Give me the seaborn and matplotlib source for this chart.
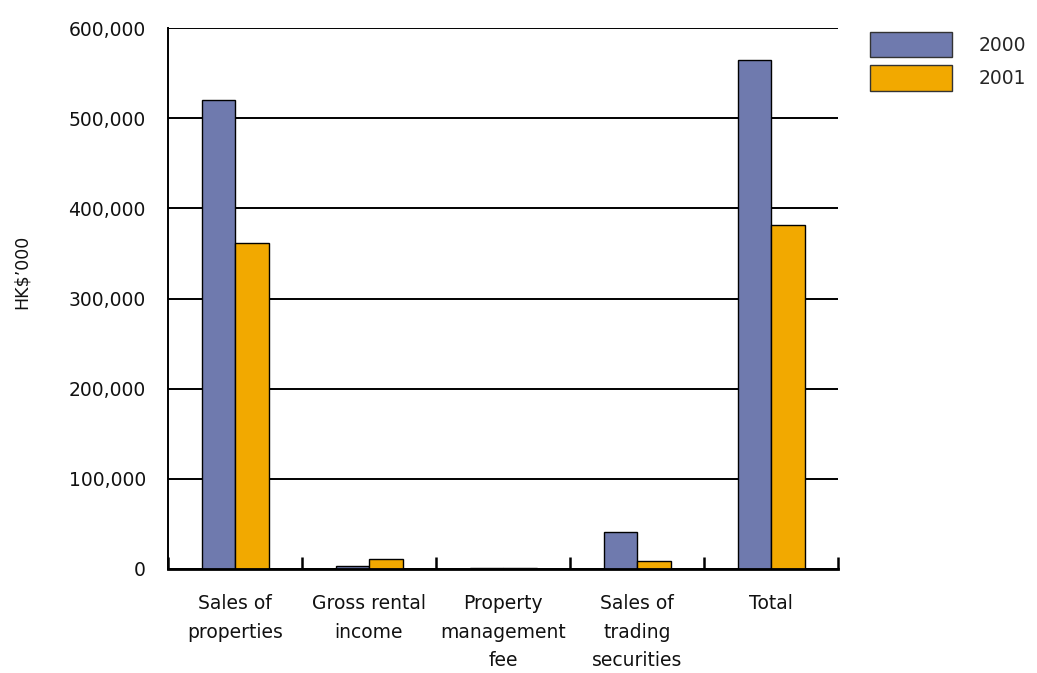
import matplotlib
matplotlib.use("Agg")
import matplotlib.pyplot as plt
import seaborn as sns
import pandas as pd
import numpy as np
from matplotlib.ticker import FixedLocator, FuncFormatter
from matplotlib.patches import Patch

categories = ["Sales of\nproperties", "Gross rental\nincome", "Property\nmanagement\nfee",
              "Sales of\ntrading\nsecurities", "Total"]
years = ["2000", "2001"]
values_2000 = [520000, 3000, 1000, 41000, 565000]
values_2001 = [361000, 11000, 1000, 9000, 382000]
colors = ["#6f7aae", "#f2a900"]

df = pd.DataFrame({
    "category": categories * 2,
    "year": [years[0]] * len(categories) + [years[1]] * len(categories),
    "value": values_2000 + values_2001,
})

sns.set_theme(style="white")
plt.rcParams["font.family"] = ["DejaVu Sans"]

fig = plt.figure(figsize=(10.37, 6.73), dpi=100)
ax = fig.add_axes([168 / 1037, 104 / 673, 670 / 1037, 541 / 673])

sns.barplot(data=df, x="category", y="value", hue="year", palette=colors,
            width=0.5, gap=0, edgecolor="black", linewidth=1.0, ax=ax,
            legend=False, saturation=1)

ax.set_ylim(0, 600000)
ax.set_xlim(-0.5, len(categories) - 0.5)
ax.set_yticks(np.arange(0, 600001, 100000))
ax.yaxis.set_major_formatter(FuncFormatter(lambda v, p: f"{int(v):,}"))
ax.grid(axis="y", color="black", linewidth=1.4)
ax.set_axisbelow(True)

for s in ["top", "right"]:
    ax.spines[s].set_visible(False)
ax.spines["left"].set_color("black")
ax.spines["left"].set_linewidth(1.4)
ax.spines["bottom"].set_color("black")
ax.spines["bottom"].set_linewidth(2.0)

ax.tick_params(axis="y", length=0, pad=16, labelsize=13.5, colors="#111111")
ax.tick_params(axis="x", which="major", bottom=True, length=0, pad=18,
               labelsize=13.5, colors="#111111")
ax.xaxis.set_minor_locator(FixedLocator(np.arange(-0.5, len(categories), 1.0)))
ax.tick_params(axis="x", which="minor", bottom=True, direction="in", length=9,
               width=1.8, color="black")
for lbl in ax.get_xticklabels():
    lbl.set_linespacing(1.65)
    lbl.set_verticalalignment("top")

ax.set_xlabel("")
ax.set_ylabel("HK$\u2019000", fontsize=12.5, color="#111111")
ax.yaxis.set_label_coords(-0.205, 0.55)

handles = [Patch(facecolor=c, edgecolor="#333333", linewidth=1.0) for c in colors]
fig.legend(handles, years, loc="upper left", bbox_to_anchor=(862 / 1037, 1 - 24 / 673),
           frameon=False, fontsize=13.5, handlelength=4.4, handleheight=1.75,
           labelspacing=0.4, handletextpad=1.4, borderaxespad=0)

fig.savefig("out.png", dpi=100)
